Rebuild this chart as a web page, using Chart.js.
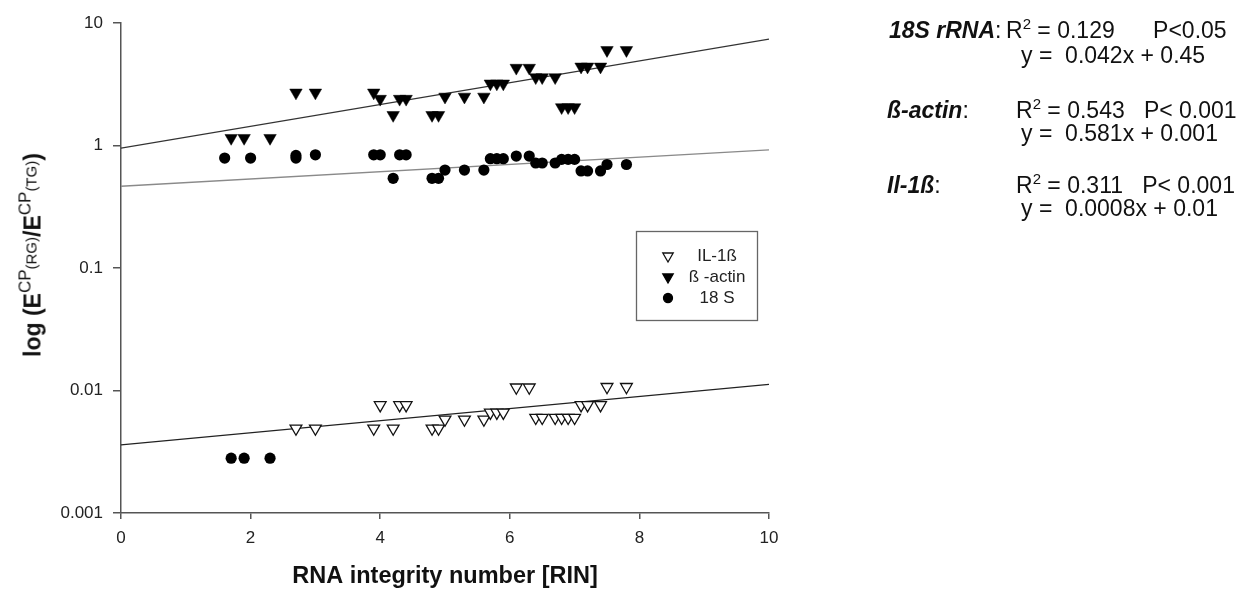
<!DOCTYPE html>
<html>
<head>
<meta charset="utf-8">
<script src="https://cdn.jsdelivr.net/npm/chart.js@4.4.1/dist/chart.umd.min.js"></script>
<style>
  body { margin: 0; background: #fff; }
  #wrap { position: relative; width: 1258px; height: 591px; font-family: "Liberation Sans", Arial, sans-serif; color: #111; }
  #chart { position: absolute; left: 0; top: 0; }
  .ytitle { position: absolute; left: 31px; top: 255px; transform: translate(-50%, -50%) rotate(-90deg);
            font-weight: bold; font-size: 23px; white-space: nowrap; }
  .ytitle .cp { font-weight: normal; font-size: 17px; vertical-align: 10px; }
  .ytitle .rg { font-size: 15px; vertical-align: -6px; }
  .t { position: absolute; transform: translateY(-50%); font-size: 23px; white-space: pre; }
  .t sup { font-size: 15px; vertical-align: 9px; line-height: 0; }
</style>
</head>
<body>
<div id="wrap">
  <canvas id="chart" width="1258" height="591"></canvas>
  <div class="ytitle">log (E<span class="cp">CP<span class="rg">(RG)</span></span>/E<span class="cp">CP<span class="rg">(TG)</span></span>)</div>

  <div class="t" style="left:889px; top:30px;"><b><i>18S rRNA</i></b>:</div>
  <div class="t" style="left:1006px; top:30px;">R<sup>2</sup> = 0.129      P&lt;0.05</div>
  <div class="t" style="left:1021px; top:55px;">y =  0.042x + 0.45</div>

  <div class="t" style="left:887px; top:110px;"><b><i>ß-actin</i></b>:</div>
  <div class="t" style="left:1016px; top:110px;">R<sup>2</sup> = 0.543   P&lt; 0.001</div>
  <div class="t" style="left:1021px; top:133px;">y =  0.581x + 0.001</div>

  <div class="t" style="left:887px; top:185px;"><b><i>Il-1ß</i></b>:</div>
  <div class="t" style="left:1016px; top:185px;">R<sup>2</sup> = 0.311   P&lt; 0.001</div>
  <div class="t" style="left:1021px; top:208px;">y =  0.0008x + 0.01</div>
</div>
<script>
// tick labels
const xTicks = [0, 2, 4, 6, 8, 10];
const yTicks = [0.001, 0.01, 0.1, 1, 10];

// IL-1ß (open triangles)
const il1bX = [2.7, 3.0, 3.9, 4.0, 4.2, 4.3, 4.4, 4.8, 4.9, 5.0, 5.3, 5.6, 5.7, 5.8, 5.9, 6.1, 6.3,
               6.4, 6.5, 6.7, 6.8, 6.9, 7.0, 7.1, 7.2, 7.4, 7.5, 7.8];
const il1bY = [0.0049, 0.0049, 0.0049, 0.0076, 0.0049, 0.0076, 0.0076, 0.0049, 0.0049, 0.0058, 0.0058,
               0.0058, 0.0066, 0.0066, 0.0066, 0.0106, 0.0106, 0.006, 0.006, 0.006, 0.006, 0.006,
               0.006, 0.0076, 0.0076, 0.0076, 0.0107, 0.0107];

// ß-actin (filled triangles)
const actinX = [1.7, 1.9, 2.3, 2.7, 3.0, 3.9, 4.0, 4.2, 4.3, 4.4, 4.8, 4.9, 5.0, 5.3, 5.6, 5.7, 5.8,
                5.9, 6.1, 6.3, 6.4, 6.5, 6.7, 6.8, 6.9, 7.0, 7.1, 7.2, 7.4, 7.5, 7.8];
const actinY = [1.15, 1.15, 1.15, 2.7, 2.7, 2.7, 2.4, 1.77, 2.4, 2.4, 1.77, 1.77, 2.5, 2.5, 2.5, 3.2,
                3.2, 3.2, 4.3, 4.3, 3.6, 3.6, 3.6, 2.05, 2.05, 2.05, 4.4, 4.4, 4.4, 6.0, 6.0];

// 18S (filled circles)
const s18X = [1.6, 2.0, 2.7, 2.7, 3.0, 3.9, 4.0, 4.2, 4.3, 4.4, 4.8, 4.9, 5.0, 5.3, 5.6, 5.7, 5.8,
              5.9, 6.1, 6.3, 6.4, 6.5, 6.7, 6.8, 6.9, 7.0, 7.1, 7.2, 7.4, 7.5, 7.8, 1.7, 1.9, 2.3];
const s18Y = [0.79, 0.79, 0.83, 0.79, 0.84, 0.84, 0.84, 0.54, 0.84, 0.84, 0.54, 0.54, 0.63, 0.63,
              0.63, 0.78, 0.78, 0.78, 0.82, 0.82, 0.72, 0.72, 0.72, 0.77, 0.77, 0.77, 0.62, 0.62,
              0.62, 0.70, 0.70, 0.0028, 0.0028, 0.0028];

// regression lines, ends at RIN 0 and 10
const fitX = [0, 10];
const il1bFit = [0.0036, 0.0112];
const actinFit = [0.95, 7.4];
const s18Fit = [0.465, 0.92];

function pts(xs, ys) {
    return xs.map((x, i) => ({ x: x, y: ys[i] }));
}

const FONT = "'Liberation Sans', Arial, sans-serif";
const AXIS = '#555';

// legend box inside the plot
const boxLegend = {
    id: 'boxLegend',
    afterDatasetsDraw(chart) {
        const ctx = chart.ctx;
        const a = chart.chartArea;
        const bx = a.left + 515, by = a.top + 208, bw = 121, bh = 89;
        ctx.save();
        ctx.strokeStyle = '#666';
        ctx.lineWidth = 1.3;
        ctx.strokeRect(bx + 0.5, by + 0.5, bw, bh);
        ctx.font = '17px ' + FONT;
        ctx.textAlign = 'center';
        ctx.textBaseline = 'middle';
        chart.data.datasets.slice(0, 3).forEach((ds, i) => {
            const y = by + 25 + i * 21;
            ctx.fillStyle = ds.backgroundColor;
            ctx.strokeStyle = ds.borderColor;
            Chart.helpers.drawPoint(ctx, {
                pointStyle: ds.pointStyle,
                rotation: ds.pointRotation || 0,
                radius: ds.pointStyle === 'circle' ? 4.5 : 6,
                borderWidth: 1.2
            }, bx + 32, y);
            ctx.fillStyle = '#222';
            ctx.fillText(ds.label, bx + 81, y);
        });
        ctx.restore();
    }
};

new Chart(document.getElementById('chart'), {
    type: 'scatter',
    data: {
        datasets: [{
            label: 'IL-1ß',
            data: pts(il1bX, il1bY),
            pointStyle: 'triangle',
            pointRotation: 180,
            pointRadius: 6.8,
            pointBorderWidth: 1.3,
            backgroundColor: '#fff',
            borderColor: '#111'
        },
        {
            label: 'ß -actin',
            data: pts(actinX, actinY),
            pointStyle: 'triangle',
            pointRotation: 180,
            pointRadius: 7.2,
            pointBorderWidth: 0.5,
            backgroundColor: '#000',
            borderColor: '#000'
        },
        {
            label: '18 S',
            data: pts(s18X, s18Y),
            pointStyle: 'circle',
            pointRadius: 5.6,
            pointBorderWidth: 0,
            backgroundColor: '#000',
            borderColor: '#000'
        },
        {
            label: 'fit IL-1ß',
            type: 'line',
            data: pts(fitX, il1bFit),
            borderColor: '#222',
            borderWidth: 1.3,
            pointRadius: 0
        },
        {
            label: 'fit ß-actin',
            type: 'line',
            data: pts(fitX, actinFit),
            borderColor: '#333',
            borderWidth: 1.3,
            pointRadius: 0
        },
        {
            label: 'fit 18S',
            type: 'line',
            data: pts(fitX, s18Fit),
            borderColor: '#8a8a8a',
            borderWidth: 1.3,
            pointRadius: 0
        }]
    },
    options: {
        responsive: false,
        animation: false,
        events: [],
        layout: {
            padding: { top: 23, right: 489, left: 0, bottom: 0 }
        },
        plugins: {
            legend: { display: false },
            tooltip: { enabled: false }
        },
        scales: {
            x: {
                type: 'linear',
                min: 0,
                max: 10,
                afterBuildTicks: (scale) => { scale.ticks = xTicks.map(v => ({ value: v })); },
                afterFit: (scale) => { scale.height = 78; },
                border: { color: AXIS, width: 1.5 },
                grid: { drawOnChartArea: false, color: AXIS, lineWidth: 1.5, tickLength: 6 },
                ticks: { color: '#222', padding: 9, font: { size: 17, family: FONT } },
                title: {
                    display: true,
                    text: 'RNA integrity number [RIN]',
                    color: '#111',
                    padding: { top: 0, bottom: 0 },
                    font: { size: 23.5, weight: 'bold', family: FONT }
                }
            },
            y: {
                type: 'logarithmic',
                min: 0.001,
                max: 10,
                afterBuildTicks: (scale) => { scale.ticks = yTicks.map(v => ({ value: v })); },
                afterFit: (scale) => { scale.width = 121; },
                border: { color: AXIS, width: 1.5 },
                grid: { drawOnChartArea: false, color: AXIS, lineWidth: 1.5, tickLength: 8 },
                ticks: {
                    color: '#222',
                    padding: 10,
                    font: { size: 17, family: FONT },
                    callback: (v) => String(v)
                }
            }
        }
    },
    plugins: [boxLegend]
});
</script>
</body>
</html>
